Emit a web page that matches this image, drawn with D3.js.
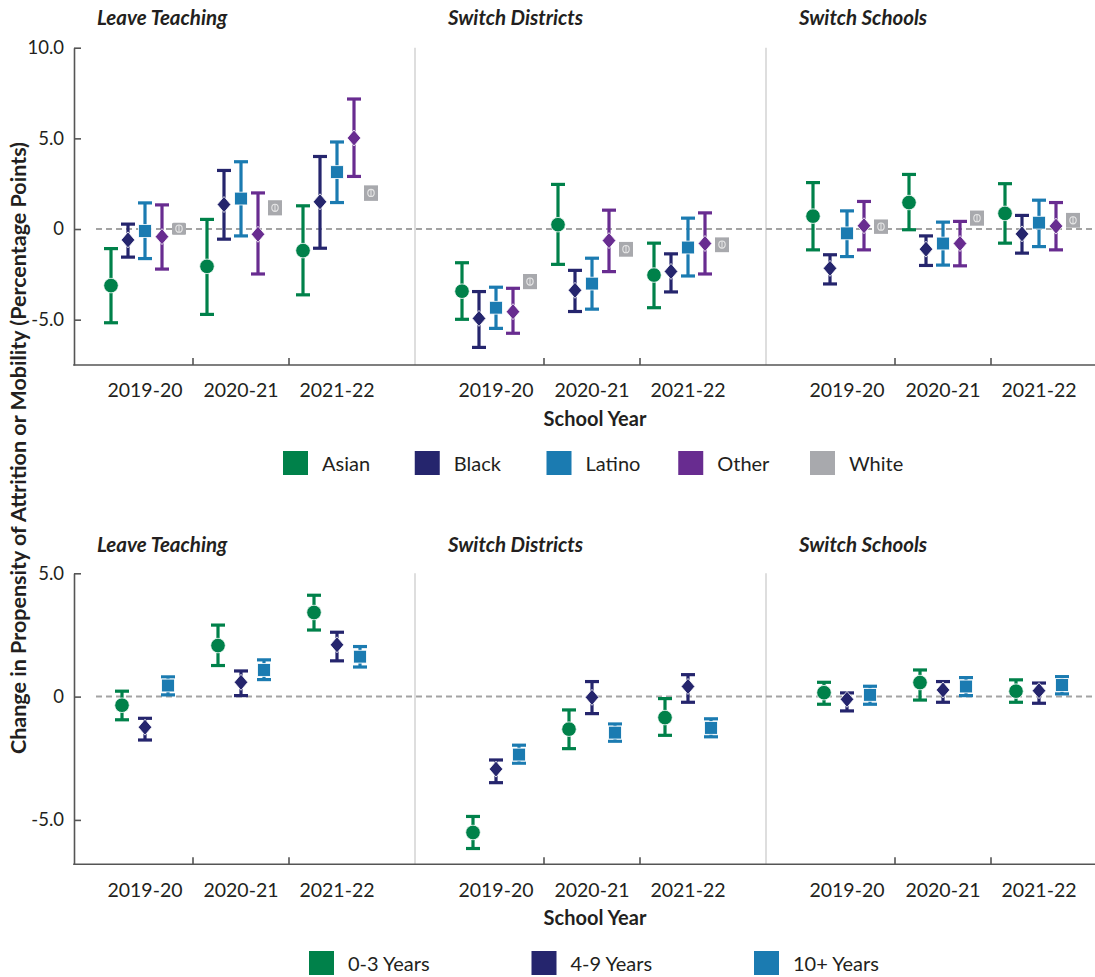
<!DOCTYPE html>
<html><head><meta charset="utf-8">
<script src="https://cdn.jsdelivr.net/npm/d3@7"></script>
<style>
body{margin:0;background:#fff}
svg{display:block}
text{font-family:Lato,"Open Sans",sans-serif;fill:#231f20}
</style>
</head><body>
<svg id="c" width="1095" height="977"></svg>
<script>
// ---------- DATA ----------
const years = ["2019-20", "2020-21", "2021-22"];
const outcomes = ["Leave Teaching", "Switch Districts", "Switch Schools"];
const yTicksTop = [-5, 0, 5, 10];
const yTicksBottom = [-5, 0, 5];

const races = ["Asian", "Black", "Latino", "Other", "White"];
// values ordered: Leave Teaching (3 yrs), Switch Districts (3 yrs), Switch Schools (3 yrs)
const asianEst  = [-3.12, -2.06, -1.19,  -3.43,  0.24, -2.54,   0.71,  1.46,  0.86];
const asianLo   = [-5.17, -4.71, -3.63,  -4.98, -1.95, -4.34,  -1.15, -0.04, -0.78];
const asianHi   = [-1.08,  0.53,  1.28,  -1.86,  2.46, -0.78,   2.56,  3.01,  2.50];
const blackEst  = [-0.60,  1.35,  1.50,  -4.93, -3.38, -2.34,  -2.17, -1.11, -0.27];
const blackLo   = [-1.55, -0.56, -1.06,  -6.53, -4.55, -3.47,  -3.03, -2.01, -1.33];
const blackHi   = [ 0.27,  3.23,  4.00,  -3.45, -2.28, -1.37,  -1.42, -0.38,  0.75];
const latinoEst = [-0.11,  1.68,  3.14,  -4.34, -3.01, -1.02,  -0.24, -0.80,  0.35];
const latinoLo  = [-1.63, -0.38,  1.46,  -5.48, -4.42, -2.59,  -1.52, -1.99, -0.97];
const latinoHi  = [ 1.44,  3.71,  4.80,  -3.21, -1.61,  0.60,   1.00,  0.38,  1.59];
const otherEst  = [-0.42, -0.29,  5.02,  -4.56, -0.64, -0.80,   0.18, -0.80,  0.16];
const otherLo   = [-2.21, -2.48,  2.90,  -5.75, -2.35, -2.48,  -1.15, -2.03, -1.15];
const otherHi   = [ 1.33,  1.99,  7.17,  -3.27,  1.04,  0.89,   1.52,  0.42,  1.46];
const whiteEst  = [ 0.02,  1.17,  1.99,  -2.90, -1.11, -0.86,   0.13,  0.60,  0.48];
const whiteLo   = [-0.20,  0.84,  1.64,  -3.23, -1.44, -1.19,  -0.18,  0.27,  0.16];
const whiteHi   = [ 0.20,  1.50,  2.32,  -2.57, -0.80, -0.55,   0.44,  0.93,  0.80];

const experience = ["0-3 Years", "4-9 Years", "10+ Years"];
const exp03Est  = [-0.35,  2.07,  3.41,  -5.51, -1.32, -0.85,   0.16,  0.57,  0.22];
const exp03Lo   = [-0.94,  1.26,  2.70,  -6.16, -2.11, -1.57,  -0.31, -0.14, -0.23];
const exp03Hi   = [ 0.22,  2.90,  4.11,  -4.86, -0.54, -0.08,   0.58,  1.08,  0.68];
const exp49Est  = [-1.24,  0.58,  2.10,  -2.94, -0.03,  0.41,  -0.11,  0.27,  0.24];
const exp49Lo   = [-1.76,  0.04,  1.45,  -3.49, -0.69, -0.23,  -0.58, -0.23, -0.27];
const exp49Hi   = [-0.88,  1.04,  2.61,  -2.57,  0.61,  0.89,   0.15,  0.61,  0.55];
const exp10Est  = [ 0.45,  1.08,  1.62,  -2.35, -1.46, -1.27,   0.07,  0.41,  0.47];
const exp10Lo   = [ 0.07,  0.69,  1.20,  -2.70, -1.81, -1.63,  -0.31,  0.04,  0.11];
const exp10Hi   = [ 0.80,  1.49,  2.03,  -1.97, -1.11, -0.90,   0.42,  0.77,  0.81];

// ---------- STYLE ----------
const raceColors = ["#00814a", "#25256d", "#1b7bb1", "#682c90", "#a8a9ad"];
const raceShapes = ["circle", "diamond", "square", "diamond", "white"];
const expColors = ["#00814a", "#25256d", "#1b7bb1"];
const expShapes = ["circle", "diamond", "square"];

const W = 1095;
const svg = d3.select("#c");
const axisX = 74;
const panelX = d3.scaleBand().domain(outcomes).range([64, 64 + 351 * 3]);
function yearBand(out) {
  const p = panelX(out);
  return d3.scaleBand().domain(years).range([p + 33, p + 33 + 288]);
}

function buildRows(names, est, lo, hi) {
  const rows = [];
  names.forEach((s, si) => {
    outcomes.forEach((o, oi) => {
      years.forEach((yr, yi) => {
        const k = oi * 3 + yi;
        rows.push({series: s, si, outcome: o, year: yr, est: est[si][k], lo: lo[si][k], hi: hi[si][k]});
      });
    });
  });
  return rows;
}

function drawMarker(sel, shape, color) {
  if (shape === "circle") {
    sel.append("circle").attr("r", 7.3).attr("fill", color).attr("stroke", "#fff").attr("stroke-width", 0.8);
  } else if (shape === "diamond") {
    sel.append("path").attr("d", "M0,-8L6.8,0L0,8L-6.8,0Z").attr("fill", color).attr("stroke", "#fff").attr("stroke-width", 0.8);
  } else if (shape === "square") {
    sel.append("rect").attr("x", -6.4).attr("y", -6.4).attr("width", 12.8).attr("height", 12.8)
      .attr("fill", color).attr("stroke", "#fff").attr("stroke-width", 0.8);
  } else {
    sel.append("rect").attr("x", -7).attr("y", -6).attr("width", 14).attr("height", 12).attr("rx", 1.5)
      .attr("fill", color);
    sel.append("ellipse").attr("rx", 3.2).attr("ry", 3.6).attr("fill", "none").attr("stroke", "#e6e6e6").attr("stroke-width", 1.1);
    sel.append("line").attr("x1", 0).attr("x2", 0).attr("y1", -3.6).attr("y2", 3.6).attr("stroke", "#e6e6e6").attr("stroke-width", 1);
  }
}

function drawChart(o) {
  const g = svg.append("g");
  const y = d3.scaleLinear().domain(o.yDomain).range([o.yBottom, o.yTop]);
  const offset = d3.scalePoint().domain(o.names).range([-o.spread, o.spread]);

  // panel dividers
  outcomes.slice(1).forEach(out => {
    g.append("line").attr("x1", panelX(out)).attr("x2", panelX(out))
      .attr("y1", o.yTop).attr("y2", o.yBottom).attr("stroke", "#d6d6d6").attr("stroke-width", 1.6);
  });
  // zero line
  g.append("line").attr("x1", yearBand(outcomes[0]).range()[0] - 1).attr("x2", W)
    .attr("y1", y(0)).attr("y2", y(0))
    .attr("stroke", "#a3a3a3").attr("stroke-width", 2).attr("stroke-dasharray", "6,4");

  // y axis
  const ax = d3.axisLeft(y).tickValues(o.yTicks)
    .tickFormat(d => d === 0 ? "0" : d.toFixed(1))
    .tickSizeInner(-7).tickSizeOuter(0).tickPadding(10);
  const ag = g.append("g").attr("transform", `translate(${axisX},0)`).call(ax);
  ag.select(".domain").attr("stroke", "#555").attr("stroke-width", 1.6);
  ag.selectAll(".tick line").attr("stroke", "#555").attr("stroke-width", 1.6);
  ag.selectAll(".tick text").attr("font-size", 18.5).attr("fill", "#231f20")
    .style("font-family", "Lato, 'Open Sans', sans-serif");

  // x axis line
  g.append("line").attr("x1", axisX - 0.8).attr("x2", W).attr("y1", o.yBottom).attr("y2", o.yBottom)
    .attr("stroke", "#555").attr("stroke-width", 1.6);

  outcomes.forEach(out => {
    const band = yearBand(out);
    years.slice(1).forEach(yr => {
      g.append("line").attr("x1", band(yr)).attr("x2", band(yr))
        .attr("y1", o.yBottom).attr("y2", o.yBottom - 7)
        .attr("stroke", "#555").attr("stroke-width", 1.6);
    });
    years.forEach(yr => {
      g.append("text").attr("x", band(yr) + band.bandwidth() / 2).attr("y", o.labelY)
        .attr("text-anchor", "middle").attr("font-size", 19.5).text(yr);
    });
    g.append("text").attr("x", band.range()[0]).attr("y", o.titleY)
      .attr("font-size", 20.5).attr("font-weight", 700).attr("font-style", "italic").text(out);
  });

  g.append("text").attr("x", 595).attr("y", o.axisTitleY).attr("text-anchor", "middle")
    .attr("font-size", 20).attr("font-weight", 700).text("School Year");

  // points
  const rows = buildRows(o.names, o.est, o.lo, o.hi);
  const pts = g.selectAll("g.pt").data(rows).join("g").attr("class", "pt")
    .attr("transform", d => {
      const band = yearBand(d.outcome);
      return `translate(${band(d.year) + band.bandwidth() / 2 + offset(d.series)},0)`;
    });
  pts.each(function(d) {
    const s = d3.select(this);
    const c = o.colors[d.si];
    s.append("line").attr("x1", 0).attr("x2", 0).attr("y1", y(d.lo)).attr("y2", y(d.hi))
      .attr("stroke", c).attr("stroke-width", 3.2);
    [d.lo, d.hi].forEach(v => {
      s.append("line").attr("x1", -7).attr("x2", 7).attr("y1", y(v)).attr("y2", y(v))
        .attr("stroke", c).attr("stroke-width", 3.2);
    });
    const m = s.append("g").attr("transform", `translate(0,${y(d.est)})`);
    drawMarker(m, o.shapes[d.si], c);
  });

  // legend
  const lx = d3.scalePoint().domain(o.names).range(o.legendRange);
  o.names.forEach((n, i) => {
    g.append("rect").attr("x", lx(n)).attr("y", o.legendY).attr("width", 25).attr("height", 24)
      .attr("fill", o.colors[i]);
    g.append("text").attr("x", lx(n) + 39).attr("y", o.legendY + 20).attr("font-size", 20).text(n);
  });
}

drawChart({
  names: races, colors: raceColors, shapes: raceShapes,
  est: [asianEst, blackEst, latinoEst, otherEst, whiteEst],
  lo: [asianLo, blackLo, latinoLo, otherLo, whiteLo],
  hi: [asianHi, blackHi, latinoHi, otherHi, whiteHi],
  yDomain: [-7.5, 10], yTop: 47.7, yBottom: 365, yTicks: yTicksTop,
  spread: 34, titleY: 25, labelY: 397, axisTitleY: 426,
  legendY: 451, legendRange: [283, 810]
});

drawChart({
  names: experience, colors: expColors, shapes: expShapes,
  est: [exp03Est, exp49Est, exp10Est],
  lo: [exp03Lo, exp49Lo, exp10Lo],
  hi: [exp03Hi, exp49Hi, exp10Hi],
  yDomain: [-6.8, 5], yTop: 573.3, yBottom: 864.3, yTicks: yTicksBottom,
  spread: 23, titleY: 552, labelY: 897, axisTitleY: 925,
  legendY: 951, legendRange: [309, 754]
});

// shared y-axis title
svg.append("text").attr("transform", "translate(26,448) rotate(-90)")
  .attr("text-anchor", "middle").attr("font-size", 21.5).attr("font-weight", 700)
  .text("Change in Propensity of Attrition or Mobility (Percentage Points)");
</script>
</body></html>
